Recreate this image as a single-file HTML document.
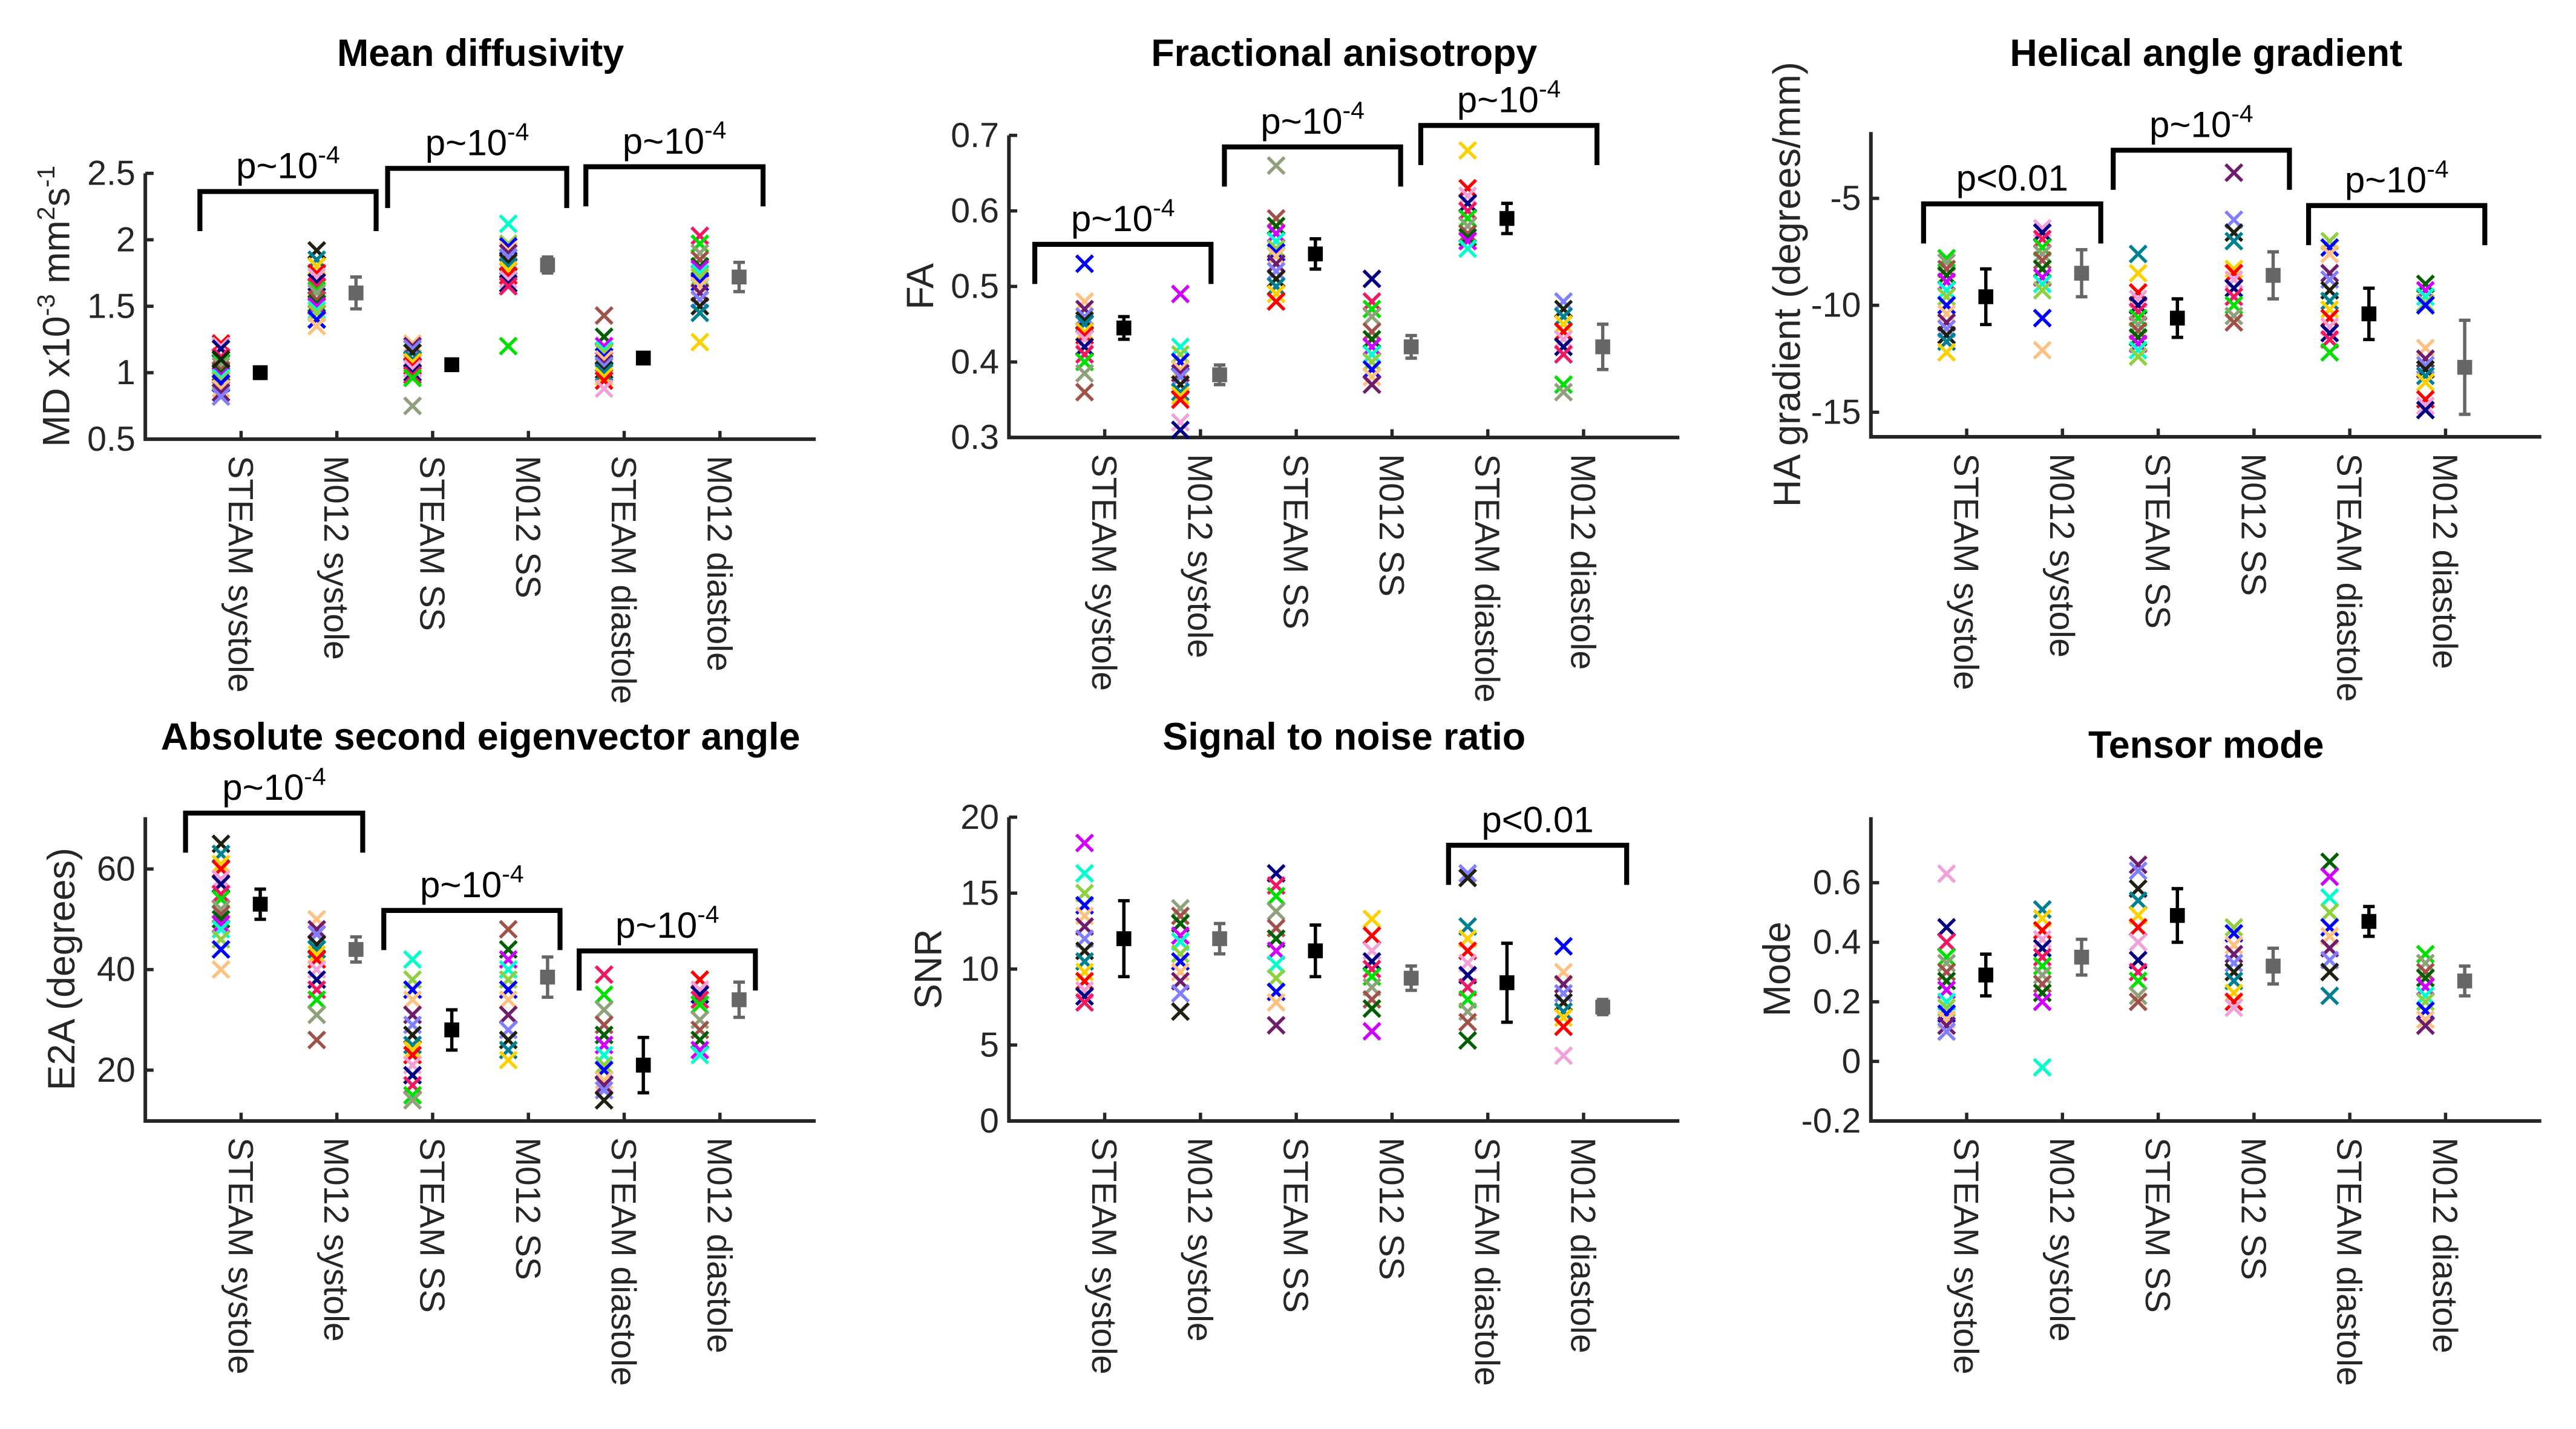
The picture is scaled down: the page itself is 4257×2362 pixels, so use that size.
<!DOCTYPE html>
<html><head><meta charset="utf-8"><style>
html,body{margin:0;padding:0;background:#fff;}
svg{display:block;font-family:"Liberation Sans",Arial,sans-serif;}
</style></head><body>
<svg id="fig" xmlns="http://www.w3.org/2000/svg" width="4257" height="2362" viewBox="0 0 1560 865.6" preserveAspectRatio="none">
<rect width="1560" height="865.6" fill="#fff"/>
</svg>
<script>
const categories = ["STEAM systole","M012 systole","STEAM SS","M012 SS","STEAM diastole","M012 diastole"];
const palette = ["#ff0000","#0000ff","#00e000","#202010","#d000ff","#f4a0d8","#ffc080","#8fa07a","#008090","#00ffcc","#000080","#701c6c","#a0524a","#ffd000","#8fd040","#f01860","#8080ff","#006000"];

// Mean diffusivity
const mdVals = [
 [1.22,1.2,1.18,1.12,1.08,1.05,1.02,1.0,0.98,0.96,0.94,0.92,0.88,0.85,0.82,1.1],
 [1.92,1.85,1.8,1.75,1.72,1.68,1.65,1.62,1.6,1.55,1.52,1.5,1.47,1.45,1.4,1.35],
 [1.22,1.2,1.18,1.15,1.1,1.08,1.05,1.03,1.0,0.98,0.96,0.75],
 [2.12,1.97,1.95,1.92,1.9,1.87,1.83,1.8,1.77,1.73,1.7,1.67,1.65,1.2],
 [1.43,1.27,1.2,1.17,1.15,1.12,1.1,1.07,1.05,1.02,1.0,0.97,0.94,0.88],
 [2.03,1.97,1.9,1.85,1.8,1.78,1.75,1.72,1.68,1.65,1.6,1.55,1.5,1.45,1.23]];
const mdMean = [1.0,1.6,1.06,1.81,1.11,1.72];
const mdSd = [0.02,0.12,0.02,0.06,0.02,0.11];
const mdTicks = [0.5,1,1.5,2,2.5];
// Fractional anisotropy
const faVals = [
 [0.53,0.48,0.47,0.46,0.455,0.45,0.44,0.435,0.43,0.42,0.41,0.40,0.385,0.36],
 [0.49,0.42,0.41,0.40,0.39,0.385,0.38,0.37,0.36,0.355,0.35,0.32,0.31],
 [0.66,0.59,0.58,0.57,0.56,0.55,0.545,0.54,0.53,0.52,0.51,0.50,0.49,0.48],
 [0.51,0.48,0.47,0.46,0.44,0.43,0.42,0.41,0.40,0.39,0.38,0.37],
 [0.68,0.63,0.62,0.61,0.60,0.59,0.58,0.57,0.565,0.56,0.55],
 [0.48,0.47,0.46,0.45,0.44,0.43,0.42,0.41,0.37,0.36]];
const faMean = [0.445,0.383,0.543,0.42,0.59,0.42];
const faSd = [0.015,0.013,0.02,0.015,0.02,0.03];
const faTicks = [0.3,0.4,0.5,0.6,0.7];
// Helical angle gradient
const haVals = [
 [-7.8,-8.0,-8.3,-8.6,-8.9,-9.3,-9.6,-10.0,-10.4,-10.8,-11.1,-11.4,-11.7,-12.2],
 [-6.4,-6.6,-6.9,-7.3,-7.6,-7.9,-8.3,-8.7,-9.0,-9.3,-10.6,-12.1],
 [-7.6,-8.5,-9.4,-9.7,-10.0,-10.3,-10.6,-10.9,-11.2,-11.5,-11.8,-12.1,-12.4],
 [-3.8,-6.0,-6.6,-7.0,-8.3,-8.5,-8.8,-9.2,-9.6,-10.0,-10.5,-10.8],
 [-7.0,-7.3,-7.6,-8.5,-8.8,-9.3,-9.8,-10.2,-10.6,-11.0,-11.3,-11.6,-12.2],
 [-9.0,-9.3,-9.6,-9.9,-10.0,-12.0,-12.5,-12.8,-13.0,-13.3,-13.6,-14.4,-14.7,-14.9]];
const haMean = [-9.6,-8.5,-10.6,-8.6,-10.4,-12.9];
const haSd = [1.3,1.1,0.9,1.1,1.2,2.2];
const haTicks = [-15,-10,-5];
// E2A
const e2aVals = [
 [65,63,61,60,58,57,55,54,52,51,50,49,48,46,44,40],
 [50,48,47,45,44,43,42,40,38,36,34,31,26],
 [42,38,36,34,31,29,27,25,24,23,21,19,17,15,14],
 [48,44,42,40,38,36,34,31,28,26,24,22],
 [39,35,32,29,27,25,23,21,20,18,17,16,14],
 [38,36,35,34,33,30,28,26,24,23]];
const e2aMean = [53,44,28,38.5,21,34];
const e2aSd = [3,2.5,4,4,5.5,3.5];
const e2aTicks = [20,40,60];
// SNR
const snrVals = [
 [18.3,16.3,15,14.2,13.5,12.8,12,11.2,10.5,9.8,9.2,8.6,8.2,7.8],
 [14,13.5,13,12.2,11.8,11,10.5,9.8,9.2,8.4,7.2],
 [16.3,15.5,14.8,13.8,12.7,12,11.2,10.3,9.4,8.5,7.8,6.3],
 [13.3,12.2,11.2,10.5,10,9.5,8.8,8.0,7.4,5.9],
 [16.3,16,12.8,12,11.2,10.4,9.6,8.8,8,7.2,6.5,5.3],
 [11.5,9.8,9,8.4,7.8,7.2,6.8,6.2,4.3]];
const snrMean = [12,12,11.2,9.4,9.1,7.5];
const snrSd = [2.5,1,1.7,0.8,2.6,0.5];
const snrTicks = [0,5,10,15,20];
// Mode
const modeVals = [
 [0.63,0.45,0.4,0.35,0.33,0.3,0.27,0.24,0.2,0.18,0.16,0.14,0.12,0.1],
 [0.51,0.48,0.44,0.41,0.38,0.35,0.32,0.29,0.26,0.23,0.2,-0.02],
 [0.66,0.64,0.58,0.54,0.49,0.45,0.4,0.34,0.3,0.27,0.22,0.2],
 [0.45,0.43,0.39,0.36,0.33,0.3,0.27,0.23,0.2,0.18],
 [0.67,0.62,0.55,0.5,0.45,0.42,0.38,0.34,0.3,0.22],
 [0.36,0.33,0.3,0.28,0.25,0.22,0.2,0.17,0.14,0.12]];
const modeMean = [0.29,0.35,0.49,0.32,0.47,0.27];
const modeSd = [0.07,0.06,0.09,0.06,0.05,0.05];
const modeTicks = [-0.2,0,0.2,0.4,0.6];

const NS="http://www.w3.org/2000/svg";
const svg=document.getElementById('fig');
function el(tag,attrs,parent){const e=document.createElementNS(NS,tag);for(const k in attrs)e.setAttribute(k,attrs[k]);(parent||svg).appendChild(e);return e;}

const panels=[
 {name:"mean-diffusivity",title:"Mean diffusivity",x0:88,top:105,bot:266,vmin:0.5,vmax:2.5,vals:mdVals,mean:mdMean,sd:mdSd,ticks:mdTicks,ylab:'MD x10<tspan dy="-9" font-size="15">-3</tspan><tspan dy="9"> mm</tspan><tspan dy="-9" font-size="15">2</tspan><tspan dy="9">s</tspan><tspan dy="-9" font-size="15">-1</tspan>',ylx:42,titleY:40,
  br:[[0.57,2.41,116,"p~10","-4"],[2.53,4.40,102,"p~10","-4"],[4.60,6.45,101,"p~10","-4"]]},
 {name:"fractional-anisotropy",title:"Fractional anisotropy",x0:611,top:82,bot:265,vmin:0.3,vmax:0.7,vals:faVals,mean:faMean,sd:faSd,ticks:faTicks,ylab:'FA',ylx:565,titleY:40,
  br:[[0.27,2.11,148,"p~10","-4"],[2.25,4.09,89,"p~10","-4"],[4.30,6.14,76,"p~10","-4"]]},
 {name:"helical-angle-gradient",title:"Helical angle gradient",x0:1133,top:80,bot:264.6,vmin:-16.15,vmax:-1.9,vals:haVals,mean:haMean,sd:haSd,ticks:haTicks,ylab:'HA gradient (degrees/mm)',ylx:1090,titleY:40,
  br:[[0.55,2.40,123.5,"p<0.01",""],[2.53,4.37,91,"p~10","-4"],[4.57,6.41,124.5,"p~10","-4"]]},
 {name:"e2a",title:"Absolute second eigenvector angle",x0:88,top:495,bot:679,vmin:9.9,vmax:70.3,vals:e2aVals,mean:e2aMean,sd:e2aSd,ticks:e2aTicks,ylab:'E2A (degrees)',ylx:45,titleY:454,
  br:[[0.42,2.27,492.5,"p~10","-4"],[2.49,4.33,551.5,"p~10","-4"],[4.53,6.37,576,"p~10","-4"]]},
 {name:"snr",title:"Signal to noise ratio",x0:611,top:495,bot:679,vmin:0,vmax:20,vals:snrVals,mean:snrMean,sd:snrSd,ticks:snrTicks,ylab:'SNR',ylx:570,titleY:454,
  br:[[4.59,6.45,512,"p<0.01",""]]},
 {name:"tensor-mode",title:"Tensor mode",x0:1133,top:495,bot:679,vmin:-0.2,vmax:0.82,vals:modeVals,mean:modeMean,sd:modeSd,ticks:modeTicks,ylab:'Mode',ylx:1084,titleY:459,
  br:[]}
];
const UNIT=58, INK="#262626";

panels.forEach((p,pi)=>{
  const g=el('g',{});
  
  
  const X=c=>p.x0+c*UNIT;
  const Y=v=>p.bot-(v-p.vmin)/(p.vmax-p.vmin)*(p.bot-p.top);
  const t=el('text',{x:p.x0+203,y:p.titleY,'text-anchor':'middle','font-size':23,'font-weight':'bold',fill:'#000'},g);
  t.textContent=p.title;
  
  
  const ax=el('path',{d:`M${p.x0},${p.top}V${p.bot}H${p.x0+7*UNIT}`,stroke:INK,'stroke-width':2.2,fill:'none'},g);
  
  
  p.ticks.forEach(tv=>{
    const y=Y(tv);
    el('line',{x1:p.x0,x2:p.x0+5,y1:y,y2:y,stroke:INK,'stroke-width':2},g);
    const tl=el('text',{x:p.x0-6,y:y+7,'text-anchor':'end','font-size':21,fill:INK},g);
    tl.textContent=String(tv);
    
    
  });
  categories.forEach((c,ci)=>{
    const x=X(ci+1);
    el('line',{x1:x,x2:x,y1:p.bot,y2:p.bot-5,stroke:INK,'stroke-width':2},g);
    const cl=el('text',{x:0,y:0,'font-size':21,fill:INK,transform:`translate(${x-7.5},${p.bot+10}) rotate(90)`},g);
    cl.textContent=c;
    
    
    const cx=X(ci+1-0.21);
    p.vals[ci].forEach((v,vi)=>{
      const y=Y(v), s=5;
      const col=palette[(vi*5+ci*3+pi)%palette.length];
      const m=el('path',{d:`M${cx-s},${y-s}L${cx+s},${y+s}M${cx-s},${y+s}L${cx+s},${y-s}`,stroke:col,'stroke-width':2,fill:'none'},g);
      
      
    });
    const mx=X(ci+1+0.2), col=ci%2===0?'#000':'#666';
    const y1=Y(p.mean[ci]+p.sd[ci]), y2=Y(p.mean[ci]-p.sd[ci]), ym=Y(p.mean[ci]);
    const eb=el('path',{d:`M${mx},${y1}V${y2}M${mx-3.5},${y1}H${mx+3.5}M${mx-3.5},${y2}H${mx+3.5}`,stroke:col,'stroke-width':2,fill:'none'},g);
    
    
    const sq=el('rect',{x:mx-4.5,y:ym-4.5,width:9,height:9,fill:col},g);
    
    
  });
  const yl=el('text',{x:0,y:0,'text-anchor':'middle','font-size':23,fill:INK,transform:`translate(${p.ylx},${(p.top+p.bot)/2}) rotate(-90)`},g);
  yl.innerHTML=p.ylab;
  
  
  p.br.forEach(b=>{
    const xa=p.x0+b[0]*UNIT, xb=p.x0+b[1]*UNIT, yt=b[2];
    const bp=el('path',{d:`M${xa},${yt+24}V${yt}H${xb}V${yt+24}`,stroke:'#000','stroke-width':3,fill:'none'},g);
    
    
    const bt=el('text',{x:(xa+xb)/2,y:yt-8,'text-anchor':'middle','font-size':22,fill:'#000'},g);
    bt.innerHTML=b[3]+(b[4]?`<tspan dy="-9" font-size="15">${b[4]}</tspan>`:'');
    
    
  });
});
</script>
</body></html>
